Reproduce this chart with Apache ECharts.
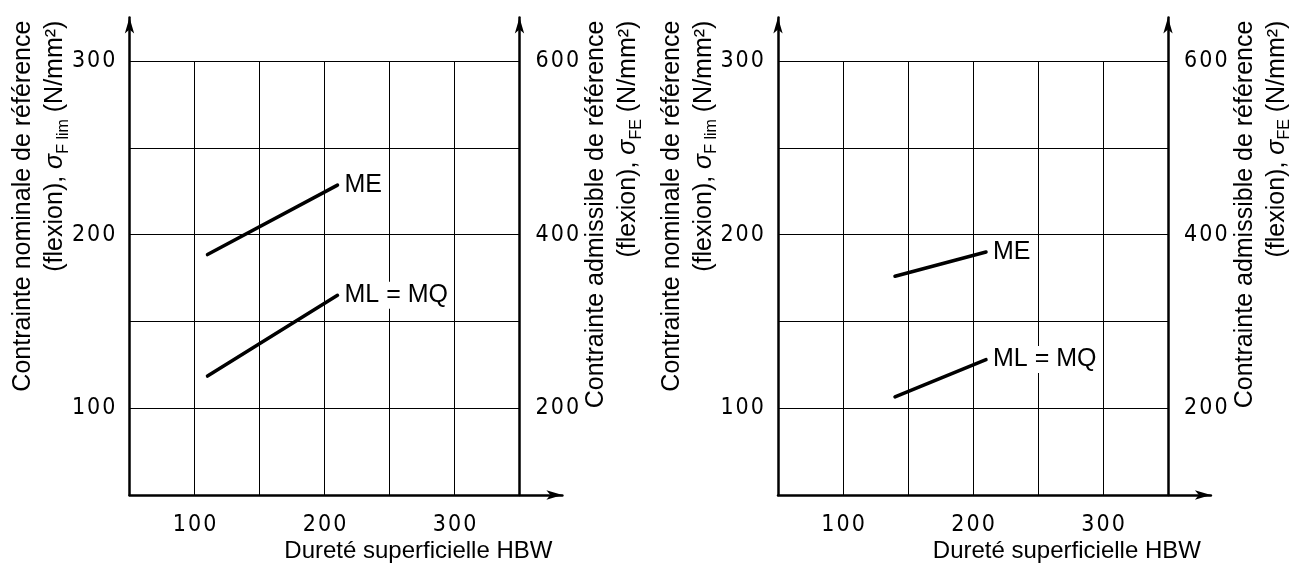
<!DOCTYPE html>
<html>
<head>
<meta charset="utf-8">
<script src="https://cdn.jsdelivr.net/npm/echarts@6/dist/echarts.min.js"></script>
<style>
  html, body { margin: 0; padding: 0; background: #fff; }
  #chart { width: 1300px; height: 564px; }
</style>
</head>
<body>
<div id="chart"></div>
<script>
// ---- data ----
const xTickLabels = [100, 200, 300];
const yLeftTickLabels = [100, 200, 300];
const yRightTickLabels = [200, 400, 600];
const gridXValues = [100, 150, 200, 250, 300];
const gridYValues = [100, 150, 200, 250, 300];

// left panel
const leftME = [[110, 188.5], [210, 228.5]];
const leftML = [[110, 118.5], [210, 165]];
// right panel
const rightME = [[140, 176], [210, 190]];
const rightML = [[140, 106.5], [210, 128]];

const seriesNames = ['ME', 'ML = MQ'];

// axis ranges
const xMin = 50, xPlotEnd = 350, xMax = 383;
const yMin = 50, yPlotEnd = 300, yMax = 325;

const chart = echarts.init(document.getElementById('chart'));

const textFont = "'Liberation Sans', Arial, sans-serif";
const tickFont = "'Liberation Sans Narrow', 'DejaVu Sans Condensed', sans-serif";

function spaced(v) {
    return String(v).split('').join('\u200A');
}

const nameRich = {
    n: { fontFamily: textFont, fontSize: 25, lineHeight: 32, color: '#000' },
    s: { fontFamily: textFont, fontSize: 25, lineHeight: 32, fontStyle: 'italic', color: '#000' },
    sub: { fontFamily: textFont, fontSize: 16, lineHeight: 19, verticalAlign: 'bottom', color: '#000' }
};

const axisLineStyle = {
    show: true,
    onZero: false,
    symbol: ['none', 'arrow'],
    symbolSize: [7, 16],
    lineStyle: { color: '#000', width: 2.5 }
};

const panels = [
    { left: 129.5, me: leftME, ml: leftML },
    { left: 778, me: rightME, ml: rightML }
];

const grids = [], xAxes = [], yAxes = [], series = [];
const gridWidth = (xMax - xMin) * 1.3;
const rightOffset = -((xMax - xPlotEnd) * 1.3);

panels.forEach(function (p, i) {
    grids.push({
        left: p.left, top: 17.6, width: gridWidth, height: 477.4,
        containLabel: false, outerBoundsMode: 'none'
    });

    xAxes.push({
        type: 'value', gridIndex: i, min: xMin, max: xMax, interval: 50,
        axisLine: axisLineStyle,
        axisTick: { show: false },
        splitLine: { show: false },
        axisLabel: {
            margin: 19, fontFamily: tickFont, fontSize: 23, color: '#000',
            formatter: v => xTickLabels.includes(v) ? spaced(v) : ''
        },
        name: 'Dureté superficielle HBW',
        nameLocation: 'end',
        nameGap: -10,
        nameMoveOverlap: false,
        nameTextStyle: {
            fontFamily: textFont, fontSize: 24, color: '#000',
            align: 'right', verticalAlign: 'top', padding: [44, 0, 0, 0]
        }
    });

    yAxes.push({
        type: 'value', gridIndex: i, position: 'left', min: yMin, max: yMax, interval: 50,
        axisLine: axisLineStyle,
        axisTick: { show: false },
        splitLine: { show: false },
        axisLabel: {
            margin: 14, fontFamily: tickFont, fontSize: 23, color: '#000',
            formatter: v => yLeftTickLabels.includes(v) ? spaced(v) : ''
        },
        name: '{n|Contrainte nominale de référence}\n{n|(flexion), }{s|σ}{sub|F lim}{n| (N/mm²)}',
        nameLocation: 'end',
        nameGap: -3,
        nameRotate: 90,
        nameMoveOverlap: false,
        nameTextStyle: {
            align: 'right', verticalAlign: 'bottom', padding: [0, 0, 58, 0],
            rich: nameRich
        }
    });

    yAxes.push({
        type: 'value', gridIndex: i, position: 'right', offset: rightOffset,
        min: yMin * 2, max: yMax * 2, interval: 100,
        axisLine: axisLineStyle,
        axisTick: { show: false },
        splitLine: { show: false },
        axisLabel: {
            margin: 16, fontFamily: tickFont, fontSize: 23, color: '#000',
            formatter: v => yRightTickLabels.includes(v) ? spaced(v) : ''
        },
        name: '{n|Contrainte admissible de référence}\n{n|(flexion), }{s|σ}{sub|FE}{n| (N/mm²)}',
        nameLocation: 'end',
        nameGap: -3,
        nameRotate: 90,
        nameMoveOverlap: false,
        nameTextStyle: {
            align: 'right', verticalAlign: 'top', padding: [61, 0, 0, 0],
            rich: nameRich
        }
    });

    // grid lines, drawn only inside the plotted region
    const gridLines = [];
    gridXValues.forEach(x => gridLines.push([{ coord: [x, yMin] }, { coord: [x, yPlotEnd] }]));
    gridYValues.forEach(y => gridLines.push([{ coord: [xMin, y] }, { coord: [xPlotEnd, y] }]));
    series.push({
        type: 'line', xAxisIndex: i, yAxisIndex: i * 2, data: [], silent: true, z: 1,
        markLine: {
            symbol: 'none', silent: true, animation: false,
            label: { show: false },
            emphasis: { disabled: true },
            lineStyle: { color: '#000', width: 1, type: 'solid' },
            data: gridLines
        }
    });

    [p.me, p.ml].forEach(function (d, k) {
        series.push({
            name: seriesNames[k],
            type: 'line', xAxisIndex: i, yAxisIndex: i * 2, z: 5,
            data: d, showSymbol: false, symbol: 'none',
            lineStyle: { color: '#000', width: 3.5, cap: 'round' },
            endLabel: {
                show: true, formatter: seriesNames[k], distance: 4,
                fontFamily: textFont, fontSize: 25, color: '#000',
                backgroundColor: '#fff', padding: [1, 3]
            },
            emphasis: { disabled: true }
        });
    });
});

chart.setOption({
    animation: false,
    grid: grids,
    xAxis: xAxes,
    yAxis: yAxes,
    series: series
});
</script>
</body>
</html>
